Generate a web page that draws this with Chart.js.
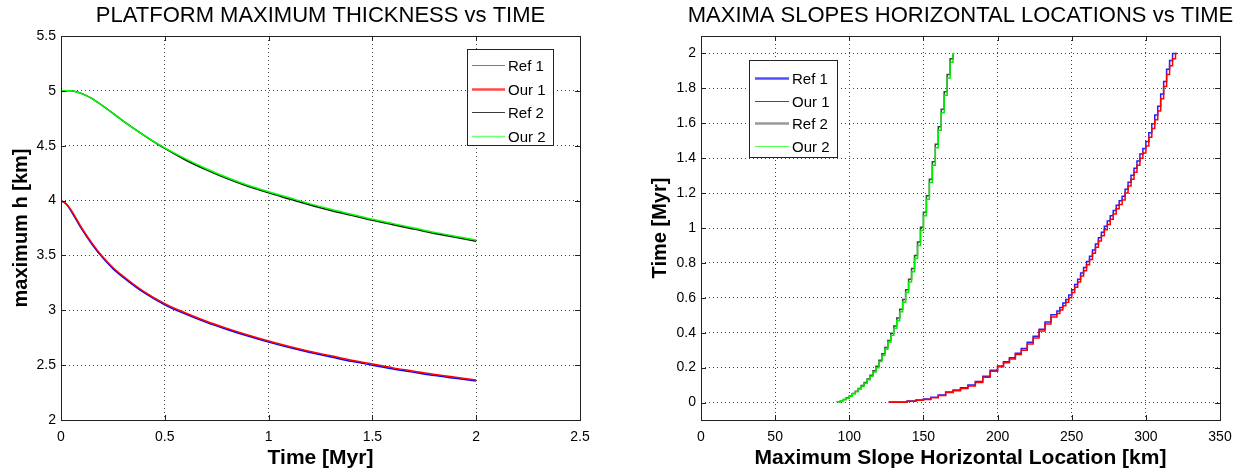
<!DOCTYPE html>
<html>
<head>
<meta charset="utf-8">
<script src="https://cdn.jsdelivr.net/npm/chart.js@4.4.1/dist/chart.umd.min.js"></script>
<style>
  html, body { margin: 0; padding: 0; background: #fff; }
  #wrap { position: relative; width: 1245px; height: 474px; }
  .box { position: absolute; top: 0; height: 474px; }
</style>
</head>
<body>
<div id="wrap">
  <div class="box" style="left:0;width:620px"><canvas id="thick"></canvas></div>
  <div class="box" style="left:620px;width:625px"><canvas id="slopes"></canvas></div>
</div>
<script>
// ---- left plot: platform maximum thickness (km) vs time (Myr)
const timeMyr = [0, 0.025, 0.05, 0.075, 0.1, 0.15, 0.2, 0.25, 0.3, 0.4, 0.5, 0.6, 0.7, 0.8, 0.9, 1.0,
                 1.1, 1.2, 1.3, 1.4, 1.5, 1.6, 1.7, 1.8, 1.9, 2.0];
const ref1Thick = [4.0, 3.97, 3.90, 3.82, 3.74, 3.60, 3.48, 3.38, 3.30, 3.16, 3.05, 2.965, 2.89, 2.825, 2.765, 2.71,
                   2.66, 2.615, 2.575, 2.535, 2.50, 2.465, 2.435, 2.405, 2.38, 2.355];
const our1Thick = [4.0, 3.97, 3.91, 3.83, 3.75, 3.61, 3.49, 3.39, 3.31, 3.17, 3.06, 2.975, 2.90, 2.835, 2.775, 2.72,
                   2.67, 2.625, 2.585, 2.545, 2.51, 2.475, 2.445, 2.415, 2.39, 2.365];
const ref2Thick = [5.0, 5.0, 5.0, 4.99, 4.975, 4.93, 4.865, 4.795, 4.725, 4.595, 4.475, 4.37, 4.28, 4.20, 4.13, 4.07,
                   4.015, 3.96, 3.91, 3.865, 3.82, 3.78, 3.74, 3.70, 3.665, 3.63];
const our2Thick = [5.0, 5.0, 5.0, 4.99, 4.975, 4.93, 4.865, 4.795, 4.725, 4.595, 4.48, 4.38, 4.29, 4.21, 4.14, 4.08,
                   4.025, 3.97, 3.92, 3.875, 3.83, 3.79, 3.75, 3.71, 3.675, 3.64];
const thickXTicks = [0, 0.5, 1, 1.5, 2, 2.5];
const thickYTicks = [2, 2.5, 3, 3.5, 4, 4.5, 5, 5.5];

// ---- right plot: location of the maximum slope (km) vs time (Myr)
const our1Loc  = [127, 139, 145, 150, 155, 160, 165, 170, 175, 180, 185, 190, 195, 200, 204, 208, 212, 216, 220,
                  224, 228, 232, 236, 240, 242, 244, 246, 248, 250, 252, 254, 256, 258, 260, 262, 264, 266, 268,
                  270, 272, 274, 276, 278, 280, 282, 284, 286, 288, 290, 292, 294, 296, 298, 300, 302, 304, 306,
                  308, 310, 312, 314, 316, 318, 320, 321];
const our1Time = [0, 0.002, 0.008, 0.013, 0.018, 0.028, 0.04, 0.057, 0.068, 0.08, 0.095, 0.115, 0.145, 0.18, 0.205,
                  0.228, 0.25, 0.275, 0.3, 0.335, 0.37, 0.41, 0.45, 0.49, 0.51, 0.53, 0.555, 0.575, 0.6, 0.63, 0.66,
                  0.69, 0.725, 0.755, 0.79, 0.82, 0.855, 0.89, 0.925, 0.955, 0.99, 1.02, 1.05, 1.08, 1.11, 1.135,
                  1.16, 1.2, 1.24, 1.28, 1.32, 1.36, 1.4, 1.43, 1.47, 1.52, 1.57, 1.62, 1.67, 1.74, 1.81, 1.88,
                  1.93, 1.97, 2.0];
const ref1Loc  = [127, 139, 145, 150, 155, 160, 165, 170, 175, 180, 185, 190, 195, 200, 204, 208, 212, 216, 220,
                  224, 228, 232, 236, 240, 242, 244, 246, 248, 250, 252, 254, 256, 258, 260, 262, 264, 266, 268,
                  270, 272, 274, 276, 278, 280, 282, 284, 286, 288, 290, 292, 294, 296, 298, 300, 302, 304, 306,
                  308, 310, 312, 314, 316, 318, 320];
const ref1Time = [0, 0.003, 0.009, 0.015, 0.02, 0.03, 0.043, 0.06, 0.072, 0.085, 0.1, 0.12, 0.15, 0.185, 0.21,
                  0.234, 0.257, 0.283, 0.31, 0.345, 0.38, 0.42, 0.462, 0.503, 0.524, 0.545, 0.57, 0.59, 0.616,
                  0.646, 0.677, 0.707, 0.742, 0.773, 0.808, 0.838, 0.874, 0.909, 0.944, 0.975, 1.01, 1.04, 1.07,
                  1.1, 1.13, 1.156, 1.182, 1.222, 1.262, 1.302, 1.343, 1.384, 1.424, 1.455, 1.496, 1.546, 1.597,
                  1.647, 1.698, 1.768, 1.84, 1.91, 1.96, 2.0];
const our2Loc  = [92, 94, 96, 98, 100, 102, 104, 106, 108, 110, 112, 114, 116, 118, 120, 122, 124, 126, 128, 130,
                  132, 134, 136, 138, 140, 142, 144, 146, 148, 150, 152, 154, 156, 158, 160, 162, 164, 166, 168,
                  170, 171];
const our2Time = [0, 0.004, 0.01, 0.017, 0.025, 0.036, 0.05, 0.062, 0.077, 0.093, 0.11, 0.13, 0.15, 0.175, 0.2,
                  0.235, 0.27, 0.305, 0.345, 0.385, 0.425, 0.47, 0.52, 0.575, 0.63, 0.69, 0.75, 0.825, 0.9, 0.985,
                  1.07, 1.165, 1.26, 1.36, 1.46, 1.56, 1.66, 1.76, 1.86, 1.95, 2.0];
const ref2Loc  = [92, 94, 96, 98, 100, 102, 104, 106, 108, 110, 112, 114, 116, 118, 120, 122, 124, 126, 128, 130,
                  132, 134, 136, 138, 140, 142, 144, 146, 148, 150, 152, 154, 156, 158, 160, 162, 164, 166, 168,
                  170, 170];
const ref2Time = [0, 0.005, 0.011, 0.018, 0.027, 0.038, 0.052, 0.065, 0.08, 0.097, 0.115, 0.135, 0.156, 0.182,
                  0.208, 0.243, 0.28, 0.315, 0.355, 0.397, 0.438, 0.484, 0.535, 0.59, 0.646, 0.707, 0.768, 0.843,
                  0.92, 1.005, 1.09, 1.185, 1.28, 1.38, 1.48, 1.58, 1.68, 1.78, 1.88, 1.97, 2.0];
const slopeXTicks = [0, 50, 100, 150, 200, 250, 300, 350];
const slopeYTicks = [0, 0.2, 0.4, 0.6, 0.8, 1, 1.2, 1.4, 1.6, 1.8, 2];

const FONT = '"Liberation Sans", Arial, Helvetica, sans-serif';
Chart.defaults.font.family = FONT;
Chart.defaults.color = '#000';

function pairs(xs, ys) {
    return xs.map((x, i) => ({ x: x, y: ys[i] }));
}

// title centred over the axes, like matlab does
const axesTitle = {
    id: 'axesTitle',
    afterDraw(chart, args, o) {
        const ctx = chart.ctx;
        const a = chart.chartArea;
        ctx.save();
        ctx.font = '22px ' + FONT;
        ctx.fillStyle = '#000';
        ctx.textAlign = 'center';
        ctx.textBaseline = 'middle';
        ctx.fillText(o.text, (a.left + a.right) / 2, o.y);
        ctx.restore();
    }
};

// box with inward tick marks
const frame = {
    id: 'frame',
    afterDatasetsDraw(chart) {
        const ctx = chart.ctx;
        const a = chart.chartArea;
        const sx = chart.scales.x, sy = chart.scales.y;
        ctx.save();
        ctx.strokeStyle = '#222';
        ctx.lineWidth = 1;
        ctx.beginPath();
        sx.ticks.forEach(t => {
            const px = Math.round(sx.getPixelForValue(t.value)) + 0.5;
            ctx.moveTo(px, a.bottom); ctx.lineTo(px, a.bottom - 5);
            ctx.moveTo(px, a.top); ctx.lineTo(px, a.top + 5);
        });
        sy.ticks.forEach(t => {
            const py = Math.round(sy.getPixelForValue(t.value)) + 0.5;
            ctx.moveTo(a.left, py); ctx.lineTo(a.left + 5, py);
            ctx.moveTo(a.right, py); ctx.lineTo(a.right - 5, py);
        });
        ctx.stroke();
        ctx.strokeRect(Math.round(a.left) + 0.5, Math.round(a.top) + 0.5,
                       Math.round(a.width), Math.round(a.height));
        ctx.restore();
    }
};

// legend box drawn inside the axes
const boxLegend = {
    id: 'boxLegend',
    afterDraw(chart, args, o) {
        const ctx = chart.ctx;
        const a = chart.chartArea;
        const x0 = o.fromRight ? Math.round(a.right - o.dx - o.w) : Math.round(a.left + o.dx);
        const y0 = Math.round(a.top + o.dy);
        ctx.save();
        ctx.fillStyle = '#fff';
        ctx.fillRect(x0, y0, o.w, o.h);
        ctx.strokeStyle = '#222';
        ctx.lineWidth = 1;
        ctx.strokeRect(x0 + 0.5, y0 + 0.5, o.w, o.h);
        ctx.font = '15px ' + FONT;
        ctx.textBaseline = 'middle';
        chart.data.datasets.forEach((ds, i) => {
            const y = Math.round(y0 + o.first + i * o.step) + 0.5;
            ctx.strokeStyle = ds.keyColor;
            ctx.lineWidth = ds.keyWidth;
            ctx.beginPath();
            ctx.moveTo(x0 + o.lineFrom, y);
            ctx.lineTo(x0 + o.lineTo, y);
            ctx.stroke();
            ctx.fillStyle = '#000';
            ctx.fillText(ds.label, x0 + o.textX, y + 1);
        });
        ctx.restore();
    }
};

function axis(min, max, tickVals, opts) {
    return {
        type: 'linear',
        min: min,
        max: max,
        afterBuildTicks: s => { s.ticks = tickVals.map(v => ({ value: v })); },
        afterFit: opts.fit,
        grid: { color: '#444', lineWidth: 1, drawTicks: false },
        border: { display: false, dash: [1, 3] },
        ticks: {
            padding: opts.tickPad,
            font: { size: 14 },
            color: '#000',
            callback: v => String(v)
        },
        title: {
            display: true,
            text: opts.title,
            font: { size: opts.titleSize, weight: 'bold' },
            color: '#000',
            padding: opts.titlePad
        }
    };
}

new Chart(document.getElementById('thick'), {
    type: 'line',
    data: {
        datasets: [
            { label: 'Ref 1', data: pairs(timeMyr, ref1Thick), borderColor: '#0000ff', borderWidth: 1.5, order: 4,
              keyColor: '#6a6aff', keyWidth: 1 },
            { label: 'Our 1', data: pairs(timeMyr, our1Thick), borderColor: '#ff0000', borderWidth: 1.5, order: 3,
              keyColor: '#ff4a4a', keyWidth: 2.5 },
            { label: 'Ref 2', data: pairs(timeMyr, ref2Thick), borderColor: '#111111', borderWidth: 1.5, order: 2,
              keyColor: '#3a3a3a', keyWidth: 1 },
            { label: 'Our 2', data: pairs(timeMyr, our2Thick), borderColor: '#00ff00', borderWidth: 1.5, order: 1,
              keyColor: '#70ff70', keyWidth: 1.5 }
        ]
    },
    options: {
        responsive: true,
        maintainAspectRatio: false,
        animation: false,
        layout: { padding: { left: 0, right: 40, top: 36, bottom: 0 } },
        elements: { point: { radius: 0 }, line: { cubicInterpolationMode: 'monotone', fill: false } },
        plugins: {
            legend: { display: false },
            tooltip: { enabled: false },
            title: { display: false },
            axesTitle: { text: 'PLATFORM MAXIMUM THICKNESS vs TIME', y: 16 },
            boxLegend: {
                fromRight: true, dx: 27, dy: 13, w: 86, h: 96, first: 16, step: 23.7,
                lineFrom: 5, lineTo: 38, textX: 41
            }
        },
        scales: {
            x: axis(0, 2.5, thickXTicks, {
                fit: s => { s.height = 54; }, tickPad: 9,
                title: 'Time [Myr]', titleSize: 21, titlePad: { top: 0, bottom: 3 }
            }),
            y: axis(2, 5.5, thickYTicks, {
                fit: s => { s.width = 61; }, tickPad: 5,
                title: 'maximum h [km]', titleSize: 20, titlePad: { top: 9, bottom: 0 }
            })
        }
    },
    plugins: [axesTitle, frame, boxLegend]
});

new Chart(document.getElementById('slopes'), {
    type: 'line',
    data: {
        datasets: [
            { label: 'Ref 1', data: pairs(ref1Loc, ref1Time), borderColor: '#2020ff', borderWidth: 1.5, order: 4,
              keyColor: '#5050ff', keyWidth: 2.5 },
            { label: 'Our 1', data: pairs(our1Loc, our1Time), borderColor: '#ff0000', borderWidth: 1.5, order: 3,
              keyColor: '#ff0000', keyWidth: 1 },
            { label: 'Ref 2', data: pairs(ref2Loc, ref2Time), borderColor: '#444444', borderWidth: 1.5, order: 2,
              keyColor: '#999999', keyWidth: 2.5 },
            { label: 'Our 2', data: pairs(our2Loc, our2Time), borderColor: '#00ee00', borderWidth: 1.5, order: 1,
              keyColor: '#50ff50', keyWidth: 1 }
        ]
    },
    options: {
        responsive: true,
        maintainAspectRatio: false,
        animation: false,
        layout: { padding: { left: 0, right: 25, top: 36, bottom: 0 } },
        elements: { point: { radius: 0 }, line: { stepped: 'after', fill: false } },
        plugins: {
            legend: { display: false },
            tooltip: { enabled: false },
            title: { display: false },
            axesTitle: { text: 'MAXIMA SLOPES HORIZONTAL LOCATIONS vs TIME', y: 16 },
            boxLegend: {
                fromRight: false, dx: 48, dy: 24, w: 88, h: 97, first: 18, step: 22.5,
                lineFrom: 6, lineTo: 40, textX: 43
            }
        },
        scales: {
            x: axis(0, 350, slopeXTicks, {
                fit: s => { s.height = 54; }, tickPad: 9,
                title: 'Maximum Slope Horizontal Location [km]', titleSize: 21, titlePad: { top: 0, bottom: 3 }
            }),
            y: axis(-0.1, 2.1, slopeYTicks, {
                fit: s => { s.width = 81; }, tickPad: 5,
                title: 'Time [Myr]', titleSize: 20, titlePad: { top: 28, bottom: 0 }
            })
        }
    },
    plugins: [axesTitle, frame, boxLegend]
});
</script>
</body>
</html>
